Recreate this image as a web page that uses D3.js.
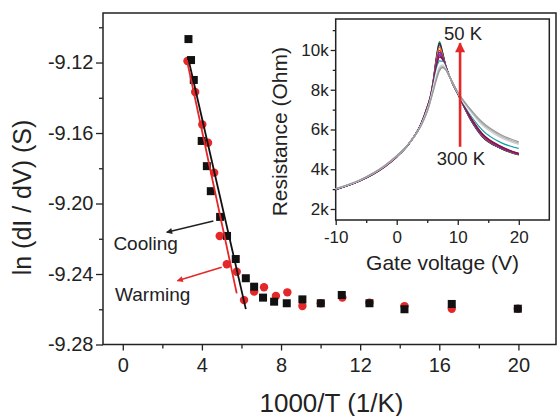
<!DOCTYPE html>
<html>
<head>
<meta charset="utf-8">
<script src="https://cdn.jsdelivr.net/npm/d3@7"></script>
<style>
  html, body { margin: 0; padding: 0; background: #fff; }
  svg { display: block; font-family: "Liberation Sans", Arial, Helvetica, sans-serif; }
</style>
</head>
<body>
<svg id="chart" width="557" height="416"></svg>
<script>
// ---------------- Main panel data ----------------
const coolingX = [3.32, 3.45, 3.59, 3.99, 4.25, 4.45, 4.92, 5.27, 5.71, 6.22, 6.64, 7.09, 7.65, 8.29, 9.08, 10.01, 11.07, 12.47, 14.24, 16.63, 19.97];
const coolingY = [-9.1067, -9.1186, -9.1299, -9.1645, -9.1788, -9.1930, -9.2076, -9.2184, -9.2315, -9.2424, -9.2472, -9.2534, -9.2557, -9.2566, -9.2544, -9.2566, -9.2519, -9.2566, -9.2600, -9.2570, -9.2597];
const warmingX = [3.27, 3.66, 4.02, 4.31, 4.62, 4.90, 5.26, 5.76, 6.13, 6.64, 7.14, 7.74, 8.32, 9.08, 10.01, 11.10, 12.47, 14.24, 16.63, 19.97];
const warmingY = [-9.1191, -9.1367, -9.1552, -9.1655, -9.1825, -9.2184, -9.2345, -9.2387, -9.2548, -9.2500, -9.2475, -9.2525, -9.2504, -9.2582, -9.2566, -9.2534, -9.2563, -9.2582, -9.2597, -9.2597];
const coolingFitX = [3.35, 6.22];
const coolingFitY = [-9.1197, -9.2599];
const warmingFitX = [3.24, 5.76];
const warmingFitY = [-9.1186, -9.2510];
const mainXTicks = [0, 4, 8, 12, 16, 20];
const mainXMinor = [2, 6, 10, 14, 18];
const mainYTicks = [-9.28, -9.24, -9.20, -9.16, -9.12];
const mainYMinor = [-9.26, -9.22, -9.18, -9.14, -9.10];

// ---------------- Inset data (resistance in kOhm) ----------------
const gateV = [-10, -6, -2, 0, 2, 4, 5, 5.5, 6, 6.5, 7, 7.5, 8, 9, 10, 12, 14, 17, 20];
const temps = [50, 60, 70, 80, 90, 100, 120, 140, 160, 180, 200, 240, 270, 300];
const curveColors = ["#1e8c3a", "#1b1f6e", "#3a2c6a", "#f07c1c", "#d8262a", "#2838c8", "#c8249c", "#6c1e8c", "#8c1438", "#14a0a8", "#ffffff", "#d0d0d0", "#b4b4b4", "#9a9a9a"];
const R50  = [2.98, 3.42, 4.12, 4.62, 5.28, 6.30, 7.15, 7.65, 8.50, 9.65, 10.42, 9.90, 9.25, 8.42, 7.80, 6.55, 5.65, 5.05, 4.72];
const R60  = [2.98, 3.42, 4.12, 4.62, 5.28, 6.30, 7.14, 7.64, 8.47, 9.59, 10.35, 9.86, 9.24, 8.42, 7.80, 6.56, 5.66, 5.06, 4.73];
const R70  = [2.98, 3.42, 4.13, 4.63, 5.28, 6.29, 7.13, 7.63, 8.45, 9.54, 10.27, 9.82, 9.23, 8.42, 7.80, 6.57, 5.67, 5.07, 4.74];
const R80  = [2.99, 3.43, 4.13, 4.63, 5.28, 6.28, 7.11, 7.61, 8.42, 9.48, 10.15, 9.76, 9.20, 8.42, 7.81, 6.59, 5.69, 5.08, 4.74];
const R90  = [2.99, 3.43, 4.13, 4.64, 5.29, 6.27, 7.09, 7.59, 8.37, 9.38, 9.98, 9.68, 9.18, 8.43, 7.81, 6.61, 5.71, 5.09, 4.75];
const R100 = [2.99, 3.43, 4.14, 4.64, 5.29, 6.27, 7.07, 7.57, 8.34, 9.30, 9.88, 9.65, 9.17, 8.43, 7.82, 6.62, 5.73, 5.10, 4.76];
const R120 = [2.99, 3.44, 4.14, 4.64, 5.29, 6.26, 7.06, 7.56, 8.31, 9.24, 9.80, 9.60, 9.15, 8.43, 7.82, 6.64, 5.75, 5.12, 4.77];
const R140 = [3.00, 3.44, 4.14, 4.65, 5.29, 6.26, 7.05, 7.55, 8.28, 9.18, 9.72, 9.57, 9.14, 8.43, 7.82, 6.66, 5.78, 5.14, 4.78];
const R160 = [3.00, 3.44, 4.15, 4.65, 5.29, 6.25, 7.03, 7.53, 8.25, 9.12, 9.64, 9.53, 9.13, 8.43, 7.83, 6.68, 5.80, 5.16, 4.80];
const R180 = [3.00, 3.45, 4.16, 4.66, 5.29, 6.24, 7.00, 7.50, 8.18, 8.95, 9.45, 9.43, 9.10, 8.44, 7.84, 6.80, 5.98, 5.35, 5.05];
const R200 = [3.01, 3.45, 4.16, 4.66, 5.30, 6.23, 6.98, 7.48, 8.13, 8.85, 9.33, 9.37, 9.08, 8.44, 7.85, 6.86, 6.08, 5.45, 5.12];
const R240 = [3.01, 3.46, 4.17, 4.67, 5.30, 6.22, 6.94, 7.44, 8.05, 8.68, 9.15, 9.25, 9.05, 8.45, 7.86, 6.95, 6.22, 5.60, 5.25];
const R270 = [3.02, 3.46, 4.17, 4.67, 5.30, 6.21, 6.92, 7.42, 8.00, 8.58, 9.05, 9.18, 9.03, 8.45, 7.87, 7.00, 6.30, 5.68, 5.32];
const R300 = [3.02, 3.47, 4.18, 4.68, 5.30, 6.20, 6.90, 7.40, 7.95, 8.50, 8.95, 9.12, 9.02, 8.45, 7.88, 7.05, 6.38, 5.75, 5.38];
const insetSeries = [R50, R60, R70, R80, R90, R100, R120, R140, R160, R180, R200, R240, R270, R300];
const insetXTicks = [-10, 0, 10, 20];
const insetXMinor = [-5, 5, 15];
const insetYTicks = [2, 4, 6, 8, 10];
const insetYMinor = [3, 5, 7, 9, 11];

// ---------------- Drawing ----------------
const svg = d3.select("#chart");
const ink = "#222";
const red = "#e4282a";

const defs = svg.append("defs");
function marker(id, color, w, h) {
  defs.append("marker").attr("id", id)
    .attr("viewBox", "0 0 10 10").attr("refX", 9).attr("refY", 5)
    .attr("markerWidth", w).attr("markerHeight", h)
    .attr("markerUnits", "userSpaceOnUse").attr("orient", "auto")
    .append("path").attr("d", "M0,0 L10,5 L0,10 Z").attr("fill", color);
}
marker("arrBlack", ink, 7, 6);
marker("arrRed", red, 7, 6);
marker("arrRedBig", red, 11, 10);

const x = d3.scaleLinear().domain([-1, 21.9]).range([103, 556]);
const y = d3.scaleLinear().domain([-9.28, -9.0919]).range([344.5, 13]);

// frame
svg.append("rect").attr("x", x.range()[0]).attr("y", y.range()[1])
  .attr("width", x.range()[1] - x.range()[0]).attr("height", y.range()[0] - y.range()[1])
  .attr("fill", "none").attr("stroke", ink).attr("stroke-width", 1.5);

function styleAxis(g, fs) {
  g.select(".domain").remove();
  g.selectAll("line").attr("stroke", ink).attr("stroke-width", 1.3);
  g.selectAll("text").attr("fill", ink).attr("font-size", fs).attr("font-family", "Liberation Sans, Arial, sans-serif");
}

const gx = svg.append("g").attr("transform", `translate(0,${y.range()[0]})`)
  .call(d3.axisBottom(x).tickValues(mainXTicks).tickSize(6).tickPadding(7).tickFormat(d => d));
styleAxis(gx, 20);
const gxm = svg.append("g").attr("transform", `translate(0,${y.range()[0]})`)
  .call(d3.axisBottom(x).tickValues(mainXMinor).tickSize(4).tickFormat(""));
styleAxis(gxm, 20);

const gy = svg.append("g").attr("transform", `translate(${x.range()[0]},0)`)
  .call(d3.axisLeft(y).tickValues(mainYTicks).tickSize(7).tickPadding(2.5).tickFormat(d => d.toFixed(2)));
styleAxis(gy, 20);
const gym = svg.append("g").attr("transform", `translate(${x.range()[0]},0)`)
  .call(d3.axisLeft(y).tickValues(mainYMinor).tickSize(4).tickFormat(""));
styleAxis(gym, 20);

// axis titles
svg.append("text").attr("x", 331.5).attr("y", 411.5).attr("text-anchor", "middle")
  .attr("font-size", 26).attr("fill", ink).text("1000/T (1/K)");
svg.append("text").attr("transform", "translate(31,197.5) rotate(-90)").attr("text-anchor", "middle")
  .attr("font-size", 25).attr("fill", ink).text("ln (dI / dV) (S)");

// data marks
const warming = warmingX.map((v, i) => [v, warmingY[i]]);
const cooling = coolingX.map((v, i) => [v, coolingY[i]]);
svg.append("g").selectAll("circle").data(warming).join("circle")
  .attr("cx", d => x(d[0])).attr("cy", d => y(d[1])).attr("r", 4.2).attr("fill", red);
svg.append("g").selectAll("rect").data(cooling).join("rect")
  .attr("x", d => x(d[0]) - 4).attr("y", d => y(d[1]) - 4).attr("width", 8).attr("height", 8).attr("fill", "#111");

const line = d3.line().x(d => x(d[0])).y(d => y(d[1]));
svg.append("path").datum(coolingFitX.map((v, i) => [v, coolingFitY[i]])).attr("d", line)
  .attr("stroke", "#111").attr("stroke-width", 1.8).attr("fill", "none");
svg.append("path").datum(warmingFitX.map((v, i) => [v, warmingFitY[i]])).attr("d", line)
  .attr("stroke", red).attr("stroke-width", 1.8).attr("fill", "none");

// annotations
svg.append("line").attr("x1", x(4.58)).attr("y1", y(-9.2099)).attr("x2", x(2.22)).attr("y2", y(-9.2163))
  .attr("stroke", ink).attr("stroke-width", 1.5).attr("marker-end", "url(#arrBlack)");
svg.append("line").attr("x1", x(5.0)).attr("y1", y(-9.2362)).attr("x2", x(2.76)).attr("y2", y(-9.2438))
  .attr("stroke", red).attr("stroke-width", 1.5).attr("marker-end", "url(#arrRed)");
svg.append("text").attr("x", x(-0.475)).attr("y", y(-9.2261)).attr("font-size", 19).attr("fill", ink).text("Cooling");
svg.append("text").attr("x", x(-0.39)).attr("y", y(-9.2553)).attr("font-size", 19).attr("fill", ink).text("Warming");

// ---------------- Inset ----------------
const ix = d3.scaleLinear().domain([-10, 25]).range([335.7, 549.3]);
const iy = d3.scaleLinear().domain([1.446, 11.56]).range([220, 19]);

svg.append("rect").attr("x", ix.range()[0]).attr("y", iy.range()[1])
  .attr("width", ix.range()[1] - ix.range()[0]).attr("height", iy.range()[0] - iy.range()[1])
  .attr("fill", "#fff").attr("stroke", ink).attr("stroke-width", 1.5);

const igx = svg.append("g").attr("transform", `translate(0,${iy.range()[0]})`)
  .call(d3.axisBottom(ix).tickValues(insetXTicks).tickSize(5).tickPadding(5.5).tickFormat(d => d < 0 ? "-" + Math.abs(d) : d));
styleAxis(igx, 17);
const igxm = svg.append("g").attr("transform", `translate(0,${iy.range()[0]})`)
  .call(d3.axisBottom(ix).tickValues(insetXMinor).tickSize(3).tickFormat(""));
styleAxis(igxm, 17);
const igy = svg.append("g").attr("transform", `translate(${ix.range()[0]},0)`)
  .call(d3.axisLeft(iy).tickValues(insetYTicks).tickSize(5).tickPadding(2).tickFormat(d => d + "k"));
styleAxis(igy, 17);
const igym = svg.append("g").attr("transform", `translate(${ix.range()[0]},0)`)
  .call(d3.axisLeft(iy).tickValues(insetYMinor).tickSize(3).tickFormat(""));
styleAxis(igym, 17);

const iline = d3.line().x((d, i) => ix(gateV[i])).y(d => iy(d)).curve(d3.curveMonotoneX);
svg.append("g").selectAll("path").data(insetSeries).join("path")
  .attr("d", d => iline(d)).attr("fill", "none")
  .attr("stroke", (d, i) => curveColors[i]).attr("stroke-width", 1.3);

svg.append("text").attr("x", 442.5).attr("y", 270).attr("text-anchor", "middle")
  .attr("font-size", 21).attr("fill", ink).text("Gate voltage (V)");
svg.append("text").attr("transform", "translate(287,131.7) rotate(-90)").attr("text-anchor", "middle")
  .attr("font-size", 21).attr("fill", ink).text("Resistance (Ohm)");

// temperature arrow
svg.append("line").attr("x1", ix(10.38)).attr("y1", iy(5.13)).attr("x2", ix(10.38)).attr("y2", iy(10.34))
  .attr("stroke", red).attr("stroke-width", 2.6).attr("marker-end", "url(#arrRedBig)");
svg.append("text").attr("x", 444).attr("y", 39.5).attr("font-size", 18.5).attr("fill", ink).text("50 K");
svg.append("text").attr("x", 436.7).attr("y", 165).attr("font-size", 18.5).attr("fill", ink).text("300 K");
</script>
</body>
</html>
